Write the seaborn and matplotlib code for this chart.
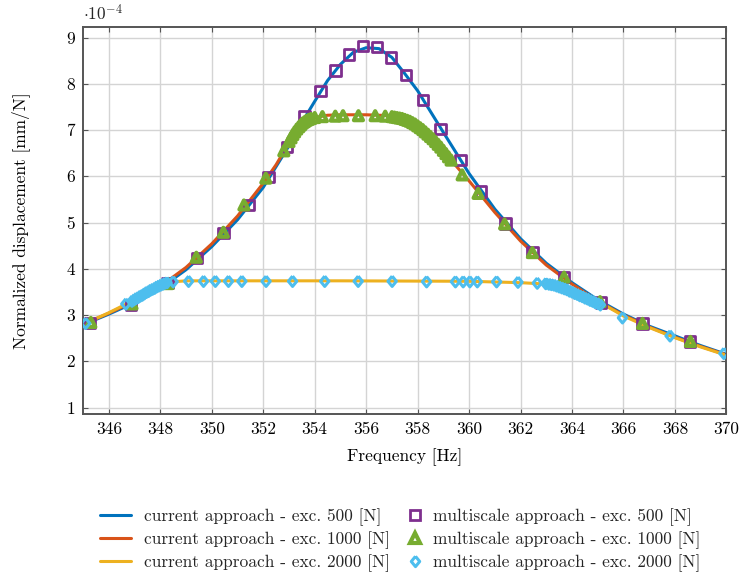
import numpy as np
import pandas as pd
import matplotlib
matplotlib.use("Agg")
import matplotlib.pyplot as plt
from matplotlib.lines import Line2D
import seaborn as sns

# ---------------- data (displacement in units of 1e-4 mm/N) ----------------
line500_f = [345.0, 346.0, 347.0, 348.0, 349.0, 350.0, 351.0, 352.0, 353.0, 353.5, 354.0,
             354.5, 355.0, 355.5, 356.0, 356.5, 357.0, 357.5, 358.0, 359.0, 360.0, 361.0,
             362.0, 363.0, 364.0, 365.0, 366.0, 367.0, 368.0, 369.0, 370.0]
line500_d = [2.79, 3.02, 3.27, 3.58, 3.98, 4.48, 5.06, 5.76, 6.66, 7.16, 7.62,
             8.07, 8.42, 8.68, 8.78, 8.76, 8.57, 8.22, 7.85, 6.95, 6.06, 5.29,
             4.65, 4.12, 3.70, 3.33, 3.02, 2.76, 2.55, 2.34, 2.15]

line1000_f = [345.0, 346.0, 347.0, 348.0, 349.0, 350.0, 351.0, 352.0, 352.5, 353.0, 353.5,
              354.0, 354.5, 355.0, 356.0, 357.0, 357.5, 358.0, 358.5, 359.0, 359.5, 360.0,
              361.0, 362.0, 363.0, 364.0, 365.0, 366.0, 367.0, 368.0, 369.0, 370.0]
line1000_d = [2.80, 3.04, 3.30, 3.62, 4.03, 4.54, 5.14, 5.85, 6.25, 6.72, 7.08,
              7.27, 7.32, 7.33, 7.33, 7.31, 7.26, 7.12, 6.88, 6.55, 6.22, 5.90,
              5.22, 4.60, 4.08, 3.67, 3.30, 3.00, 2.74, 2.52, 2.32, 2.14]

line2000_f = [345.0, 346.0, 347.0, 348.0, 348.5, 349.0, 350.0, 355.0, 360.0, 362.0, 363.0,
              363.5, 364.0, 364.5, 365.0, 366.0, 367.0, 368.0, 369.0, 370.0]
line2000_d = [2.80, 3.05, 3.33, 3.64, 3.72, 3.74, 3.74, 3.74, 3.73, 3.70, 3.67,
              3.62, 3.53, 3.42, 3.30, 2.98, 2.73, 2.51, 2.31, 2.13]

ms500_f = [345.27, 346.86, 348.28, 349.42, 350.46, 351.43, 352.21, 352.93, 353.60, 354.22,
           354.81, 355.32, 355.88, 356.43, 356.97, 357.55, 358.22, 358.89, 359.67, 360.45,
           361.42, 362.46, 363.69, 365.12, 366.74, 368.59]
ms500_d = [2.83, 3.22, 3.70, 4.23, 4.77, 5.38, 5.99, 6.64, 7.29, 7.84,
           8.29, 8.63, 8.81, 8.80, 8.57, 8.19, 7.65, 7.03, 6.35, 5.67,
           4.98, 4.37, 3.83, 3.27, 2.82, 2.43]

ms1000_f = [345.30, 346.90, 348.30, 349.40, 350.45, 351.25, 352.10, 352.80, 353.00, 353.08,
            353.15, 353.22, 353.30, 353.38, 353.45, 353.52, 353.60, 353.68, 353.76, 353.85,
            354.00, 354.30, 354.80, 355.10, 355.70, 356.35, 356.74, 357.00, 357.10, 357.20,
            357.30, 357.40, 357.50, 357.60, 357.70, 357.80, 357.90, 358.00, 358.10, 358.20,
            358.30, 358.40, 358.50, 358.60, 358.70, 358.80, 358.90, 359.00, 359.10, 359.20,
            359.30, 359.73, 360.35, 361.38, 362.46, 363.69, 365.09, 366.74, 368.60]
ms1000_d = [2.84, 3.24, 3.68, 4.25, 4.79, 5.38, 5.96, 6.55, 6.75, 6.83,
            6.90, 6.96, 7.02, 7.07, 7.11, 7.15, 7.18, 7.21, 7.23, 7.25,
            7.27, 7.29, 7.30, 7.31, 7.31, 7.31, 7.30, 7.29, 7.28, 7.27,
            7.26, 7.25, 7.23, 7.21, 7.19, 7.16, 7.13, 7.09, 7.05, 7.01,
            6.96, 6.91, 6.86, 6.81, 6.75, 6.69, 6.63, 6.56, 6.49, 6.42,
            6.35, 6.03, 5.63, 4.97, 4.35, 3.82, 3.29, 2.82, 2.43]

ms2000_f = [345.10, 346.66, 346.90, 346.98, 347.06, 347.14, 347.22, 347.30, 347.38, 347.46,
            347.54, 347.62, 347.70, 347.78, 347.86, 347.94, 348.02, 348.10, 348.18, 348.26,
            348.50, 349.10, 349.68, 350.14, 350.65, 351.17, 352.11, 353.14, 354.39, 355.69,
            357.01, 358.35, 359.47, 359.77, 360.03, 360.32, 361.07, 361.90, 362.65, 362.98,
            363.10, 363.20, 363.30, 363.40, 363.50, 363.60, 363.70, 363.80, 363.90, 364.00,
            364.10, 364.20, 364.30, 364.40, 364.50, 364.60, 364.70, 364.80, 364.90, 365.00,
            365.10, 365.96, 367.81, 369.90]
ms2000_d = [2.82, 3.24, 3.30, 3.33, 3.36, 3.38, 3.41, 3.43, 3.46, 3.49,
            3.51, 3.54, 3.56, 3.58, 3.61, 3.63, 3.65, 3.67, 3.69, 3.70,
            3.72, 3.73, 3.73, 3.73, 3.73, 3.73, 3.73, 3.73, 3.73, 3.73,
            3.73, 3.72, 3.72, 3.72, 3.72, 3.72, 3.72, 3.71, 3.69, 3.68,
            3.67, 3.66, 3.65, 3.63, 3.61, 3.59, 3.57, 3.55, 3.52, 3.50,
            3.47, 3.45, 3.42, 3.40, 3.37, 3.35, 3.32, 3.30, 3.27, 3.25,
            3.22, 2.94, 2.55, 2.17]

x_ticks = [346, 348, 350, 352, 354, 356, 358, 360, 362, 364, 366, 368, 370]
y_ticks = [1, 2, 3, 4, 5, 6, 7, 8, 9]

labels_current = ["current approach - exc. 500 [N]", "current approach - exc. 1000 [N]",
                  "current approach - exc. 2000 [N]"]
labels_multi = ["multiscale approach - exc. 500 [N]", "multiscale approach - exc. 1000 [N]",
                "multiscale approach - exc. 2000 [N]"]

# ---------------- style ----------------
sns.set_theme(style="whitegrid")
plt.rcParams["font.family"] = ["cmr10", "DejaVu Serif"]
plt.rcParams["mathtext.fontset"] = "cm"
plt.rcParams["axes.unicode_minus"] = False
plt.rcParams["axes.formatter.use_mathtext"] = True

FS = 12.5
c_blue, c_orange, c_yellow = "#0072BD", "#D95319", "#EDB120"
c_purple, c_green, c_cyan = "#7E2F8E", "#77AC30", "#4DBEEE"
diamond = [(0, 1), (0.82, 0), (0, -1), (-0.82, 0), (0, 1)]

fig = plt.figure(figsize=(7.42, 5.76), dpi=100)
ax = fig.add_axes([0.112, 0.282, 0.867, 0.6705])

lw = 2.2
for f, d, c in [(line500_f, line500_d, c_blue), (line1000_f, line1000_d, c_orange),
                (line2000_f, line2000_d, c_yellow)]:
    df = pd.DataFrame({"f": f, "d": d})
    sns.lineplot(data=df, x="f", y="d", color=c, linewidth=lw, sort=False,
                 estimator=None, ax=ax, legend=False)

df = pd.DataFrame({"f": ms500_f, "d": ms500_d})
sns.scatterplot(data=df, x="f", y="d", marker="s", s=55, facecolor="none",
                edgecolor=c_purple, linewidth=2.0, ax=ax, legend=False, zorder=3)
df = pd.DataFrame({"f": ms1000_f, "d": ms1000_d})
sns.scatterplot(data=df, x="f", y="d", marker="^", s=42, facecolor="none",
                edgecolor=c_green, linewidth=3.0, ax=ax, legend=False, zorder=4)
df = pd.DataFrame({"f": ms2000_f, "d": ms2000_d})
sns.scatterplot(data=df, x="f", y="d", marker=diamond, s=55, facecolor="none",
                edgecolor=c_cyan, linewidth=2.2, ax=ax, legend=False, zorder=5)

ax.set_xlim(345, 370)
ax.set_ylim(0.87, 9.22)
ax.set_xticks(x_ticks)
ax.set_yticks(y_ticks)
ax.set_xticklabels([str(t) for t in x_ticks])
ax.set_yticklabels([str(t) for t in y_ticks])
ax.tick_params(axis="both", labelsize=FS, colors="black", direction="in",
               length=3.5, width=0.8, top=True, right=True, bottom=True, left=True,
               pad=6)
ax.tick_params(axis="both", color="#555555")
ax.grid(True, color="#d4d4d4", linewidth=1.0)
for s in ax.spines.values():
    s.set_color("#555555")
    s.set_linewidth(1.4)
ax.set_facecolor("white")

ax.set_xlabel("Frequency [Hz]", fontsize=FS, color="black", labelpad=8)
ax.set_ylabel("Normalized displacement [mm/N]", fontsize=FS, color="black", labelpad=26)
ax.text(0.0, 1.01, r"$\cdot 10^{-4}$", transform=ax.transAxes, fontsize=FS,
        ha="left", va="bottom")

line_handles = [
    Line2D([], [], color=c_blue, lw=lw),
    Line2D([], [], color=c_orange, lw=lw),
    Line2D([], [], color=c_yellow, lw=lw),
]
marker_handles = [
    Line2D([], [], ls="", marker="s", ms=7.4, mfc="none", mec=c_purple, mew=2.0),
    Line2D([], [], ls="", marker="^", ms=6.5, mfc="none", mec=c_green, mew=3.0),
    Line2D([], [], ls="", marker=diamond, ms=7.4, mfc="none", mec=c_cyan, mew=2.2),
]
leg1 = fig.legend(line_handles, labels_current, loc="center left",
                  bbox_to_anchor=(100 / 742, 0.0625), frameon=False, fontsize=FS,
                  handlelength=1.8, handletextpad=0.75, labelspacing=0.32, borderpad=0,
                  borderaxespad=0)
leg2 = fig.legend(marker_handles, labels_multi, loc="center left",
                  bbox_to_anchor=(406 / 742, 0.0625), frameon=False, fontsize=FS,
                  handlelength=1.0, handletextpad=0.55, labelspacing=0.32, borderpad=0,
                  borderaxespad=0)

fig.savefig("out.png", dpi=100, facecolor="white")
